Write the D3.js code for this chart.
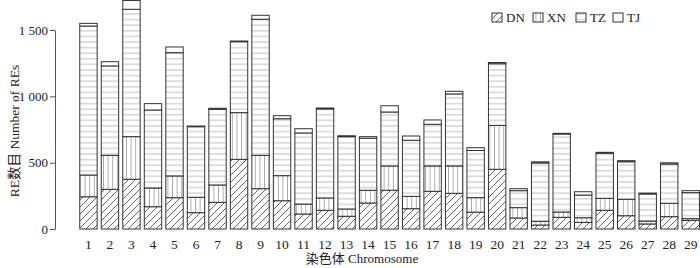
<!DOCTYPE html>
<html><head><meta charset="utf-8">
<script src="https://cdn.jsdelivr.net/npm/d3@7"></script>
<style>
html,body{margin:0;padding:0;background:#fff;}
svg{display:block;}
text{font-family:"Liberation Serif","Times New Roman","Noto Sans CJK SC",serif;fill:#222;}
</style></head>
<body>
<svg id="chart" width="700" height="268"></svg>
<script>
const categories = ["1","2","3","4","5","6","7","8","9","10","11","12","13","14","15","16","17","18","19","20","21","22","23","24","25","26","27","28","29"];
const seriesNames = ["DN","XN","TZ","TJ"];
const DN = [243,299,375,168,236,123,201,525,304,213,113,141,96,196,292,153,284,269,127,450,83,30,88,50,141,100,38,93,65];
const XN = [164,256,321,141,164,116,131,352,251,189,75,93,55,96,183,93,191,206,109,331,78,28,40,35,90,124,22,101,13];
const TZ = [1123,674,960,588,929,532,570,535,1026,429,536,671,545,392,407,423,314,543,356,465,128,440,588,171,340,283,204,296,196];
const TJ = [20,32,66,48,43,5,8,5,30,23,32,7,7,12,47,32,33,20,21,9,15,8,5,25,7,8,7,9,15];
const yTicks = [0,500,1000,1500];

const svg = d3.select("#chart");
const defs = svg.append("defs");
const pDN = defs.append("pattern").attr("id","pDN").attr("patternUnits","userSpaceOnUse").attr("width",7).attr("height",7);
pDN.append("rect").attr("width",7).attr("height",7).attr("fill","#fff");
pDN.append("path").attr("d","M0,7 L7,0 M-1,1 L1,-1 M6,8 L8,6").attr("stroke","#555").attr("stroke-width",0.9);
const pXN = defs.append("pattern").attr("id","pXN").attr("patternUnits","userSpaceOnUse").attr("width",4.6).attr("height",10);
pXN.append("rect").attr("width",4.6).attr("height",10).attr("fill","#fff");
pXN.append("line").attr("x1",2.3).attr("x2",2.3).attr("y1",0).attr("y2",10).attr("stroke","#999").attr("stroke-width",0.8);
const pTZ = defs.append("pattern").attr("id","pTZ").attr("patternUnits","userSpaceOnUse").attr("width",10).attr("height",5.6);
pTZ.append("rect").attr("width",10).attr("height",5.6).attr("fill","#fff");
pTZ.append("line").attr("x1",0).attr("x2",10).attr("y1",2.8).attr("y2",2.8).attr("stroke","#aaa").attr("stroke-width",0.8);
const fills = {DN:"url(#pDN)",XN:"url(#pXN)",TZ:"url(#pTZ)",TJ:"#fff"};

const x = d3.scaleBand().domain(categories).range([77.7,701.5]).paddingInner(0.145).paddingOuter(0.0725);
const y = d3.scaleLinear().domain([0,1500]).range([229,30]);

const table = categories.map((c,i)=>({cat:c,DN:DN[i],XN:XN[i],TZ:TZ[i],TJ:TJ[i]}));
const stacked = d3.stack().keys(seriesNames)(table);

const g = svg.append("g");
stacked.forEach(layer=>{
  g.append("g").selectAll("rect").data(layer).join("rect")
    .attr("x",d=>x(d.data.cat)+0.5)
    .attr("y",d=>y(d[1]))
    .attr("width",x.bandwidth()-1)
    .attr("height",d=>Math.max(0,y(d[0])-y(d[1])))
    .attr("fill",fills[layer.key])
    .attr("stroke","#333").attr("stroke-width",1);
});

const fmt = v => d3.format(",")(v).replace(/,/g," ");
const ya = svg.append("g").attr("transform","translate(55,0)")
  .call(d3.axisLeft(y).tickValues(yTicks).tickFormat(fmt).tickSize(5).tickSizeOuter(0));
ya.attr("font-family",null).attr("font-size",null);
ya.select(".domain").attr("stroke","#555");
ya.selectAll(".tick line").attr("stroke","#555");
ya.selectAll("text").attr("font-size",13).attr("fill","#222").attr("x",-7);

const xa = svg.append("g").attr("transform","translate(0,229)")
  .call(d3.axisBottom(x).tickSize(0));
xa.attr("font-family",null).attr("font-size",null);
xa.select(".domain").remove();
xa.selectAll("text").attr("font-size",13.5).attr("fill","#222").attr("dy","0").attr("y",19.5);

svg.append("text").attr("x",362).attr("y",263).attr("text-anchor","middle").attr("font-size",13)
  .text("染色体 Chromosome");
svg.append("text").attr("transform","translate(19,131) rotate(-90)").attr("text-anchor","middle").attr("font-size",13.5)
  .text("RE数目 Number of REs");

const legX = [492,533,576,613];
const lg = svg.append("g");
seriesNames.forEach((s,i)=>{
  lg.append("rect").attr("x",legX[i]).attr("y",13).attr("width",10).attr("height",9)
    .attr("fill",fills[s]).attr("stroke","#333").attr("stroke-width",1);
  lg.append("text").attr("x",legX[i]+14).attr("y",22).attr("font-size",13).text(s);
});
</script>
</body></html>
